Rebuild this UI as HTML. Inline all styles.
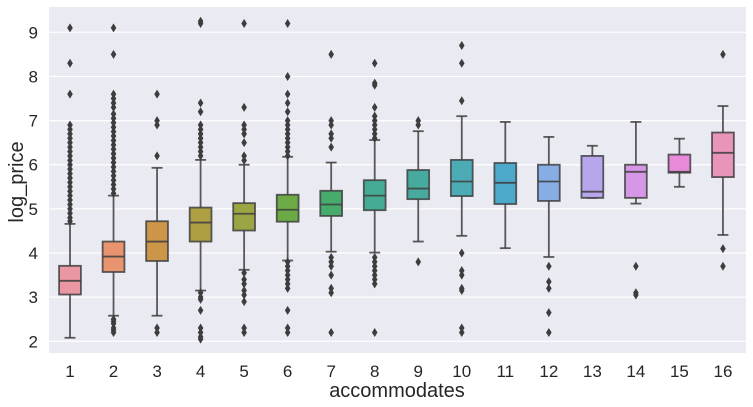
<!DOCTYPE html>
<html><head><meta charset="utf-8">
<style>
html,body{margin:0;padding:0;background:#fff;}
svg{display:block;font-family:"Liberation Sans","DejaVu Sans",sans-serif;}
</style></head>
<body>
<svg id="chart" width="753" height="407" viewBox="0 0 753 407" xmlns="http://www.w3.org/2000/svg">
  <rect x="49" y="7" width="697" height="346" fill="#eaeaf2"/>
  <g id="grid"></g>
  <g id="boxes"></g>
  <g id="yticks"></g>
  <g id="xticks"></g>
  <text x="397" y="397" font-size="20" text-anchor="middle" fill="#262626">accommodates</text>
  <text transform="translate(23,182) rotate(-90)" font-size="20" text-anchor="middle" fill="#262626">log_price</text>
</svg>
<script>
const categories = ["1","2","3","4","5","6","7","8","9","10","11","12","13","14","15","16"];
const whiskLow = [2.08,2.58,2.58,3.15,3.62,3.83,4.03,4.01,4.26,4.39,4.11,3.91,5.25,5.12,5.50,4.41];
const q1 = [3.06,3.57,3.82,4.26,4.51,4.71,4.84,4.97,5.22,5.29,5.11,5.18,5.25,5.25,5.82,5.72];
const medians = [3.37,3.92,4.26,4.69,4.89,4.98,5.10,5.30,5.46,5.62,5.59,5.62,5.39,5.84,5.84,6.27];
const q3 = [3.71,4.26,4.72,5.03,5.13,5.32,5.41,5.65,5.88,6.11,6.04,6.00,6.20,6.00,6.23,6.73];
const whiskHigh = [4.66,5.30,5.93,6.11,6.00,6.18,6.05,6.56,6.76,7.10,6.97,6.63,6.43,6.97,6.59,7.33];
const outliers = [
  [4.72,4.8,4.9,5.0,5.1,5.2,5.3,5.4,5.5,5.6,5.7,5.8,5.9,6.0,6.1,6.2,6.3,6.4,6.5,6.6,6.7,6.8,6.9,7.6,8.3,9.1],
  [2.2,2.25,2.3,2.4,2.45,2.5,5.35,5.45,5.55,5.65,5.75,5.85,5.95,6.05,6.15,6.25,6.35,6.45,6.55,6.65,6.75,6.85,6.95,7.05,7.15,7.3,7.4,7.5,7.6,8.5,9.1],
  [2.2,2.3,6.2,6.9,7.0,7.6],
  [2.05,2.1,2.2,2.3,2.7,2.95,3.0,3.1,6.2,6.3,6.4,6.5,6.6,6.7,6.8,6.9,7.2,7.4,9.2,9.25],
  [2.2,2.3,2.9,3.05,3.15,3.3,3.4,3.55,6.1,6.2,6.5,6.7,6.8,6.9,7.3,9.2],
  [2.2,2.3,2.7,3.2,3.3,3.4,3.5,3.6,3.7,3.8,6.2,6.3,6.4,6.5,6.6,6.7,6.8,6.9,7.0,7.2,7.4,7.6,8.0,9.2],
  [2.2,3.1,3.2,3.5,3.7,3.8,3.9,6.4,6.6,6.7,6.9,7.0,8.5],
  [2.2,3.3,3.4,3.5,3.6,3.7,3.8,3.9,6.6,6.7,6.8,6.9,7.0,7.1,7.3,7.8,7.85,8.3],
  [3.8,6.9,7.0],
  [2.2,2.3,3.15,3.2,3.5,3.6,4.0,7.45,8.3,8.7],
  [],
  [2.2,2.65,3.2,3.35,3.7],
  [],
  [3.05,3.1,3.7],
  [],
  [3.7,4.1,8.5]
];
const colors = ["#ea96a3","#e8946f","#cc9548","#ad9f42","#9ca543","#6caa46","#46ab6b","#45ab94","#47aa9f","#4cabb5","#4ca9c9","#87aee4","#b7a6ec","#d597e6","#e88ad9","#e994bb"];
const yTicks = [2,3,4,5,6,7,8,9];

const NS = "http://www.w3.org/2000/svg";
const plotL = 49, plotR = 746;
function yScale(v){ return 341.3 - (v - 2) * 44.14; }
function xScale(i){ return 70 + i * 43.53; }
function mk(tag, attrs, parent){
  const e = document.createElementNS(NS, tag);
  for (const k in attrs) e.setAttribute(k, attrs[k]);
  parent.appendChild(e);
  return e;
}
const grid = document.getElementById('grid');
const yt = document.getElementById('yticks');
yTicks.forEach(v => {
  const l = mk('line', {x1: plotL, x2: plotR, y1: yScale(v), y2: yScale(v), stroke: '#fff', 'stroke-width': 1.2}, grid);
  
  
  const t = mk('text', {x: 38, y: yScale(v) + 6, 'font-size': 17, 'text-anchor': 'end', fill: '#262626'}, yt);
  t.textContent = v;
  
  
});
const xt = document.getElementById('xticks');
const boxes = document.getElementById('boxes');
const bw = 21.8, lc = '#3f3f3f', lw = 1.8;
categories.forEach((c, i) => {
  const x = xScale(i);
  const t = mk('text', {x: x, y: 377, 'font-size': 17, 'text-anchor': 'middle', fill: '#262626'}, xt);
  t.textContent = c;
  
  
  const g = mk('g', {}, boxes);
  
  
  mk('line', {x1: x, x2: x, y1: yScale(whiskLow[i]), y2: yScale(q1[i]), stroke: lc, 'stroke-width': lw, opacity: 0.85}, g);
  mk('line', {x1: x, x2: x, y1: yScale(q3[i]), y2: yScale(whiskHigh[i]), stroke: lc, 'stroke-width': lw, opacity: 0.85}, g);
  mk('line', {x1: x - bw/4, x2: x + bw/4, y1: yScale(whiskLow[i]), y2: yScale(whiskLow[i]), stroke: lc, 'stroke-width': lw, opacity: 0.85}, g);
  mk('line', {x1: x - bw/4, x2: x + bw/4, y1: yScale(whiskHigh[i]), y2: yScale(whiskHigh[i]), stroke: lc, 'stroke-width': lw, opacity: 0.85}, g);
  mk('rect', {x: x - bw/2, y: yScale(q3[i]), width: bw, height: Math.max(0.5, yScale(q1[i]) - yScale(q3[i])), fill: colors[i], stroke: lc, 'stroke-width': lw, 'stroke-opacity': 0.85}, g);
  mk('line', {x1: x - bw/2, x2: x + bw/2, y1: yScale(medians[i]), y2: yScale(medians[i]), stroke: lc, 'stroke-width': lw, opacity: 0.85}, g);
  outliers[i].forEach(v => {
    const y = yScale(v);
    const d = mk('polygon', {points: `${x},${y-4.5} ${x+2.8},${y} ${x},${y+4.5} ${x-2.8},${y}`, fill: '#3d3d3d'}, g);
    
    
  });
});
</script>
</body></html>
